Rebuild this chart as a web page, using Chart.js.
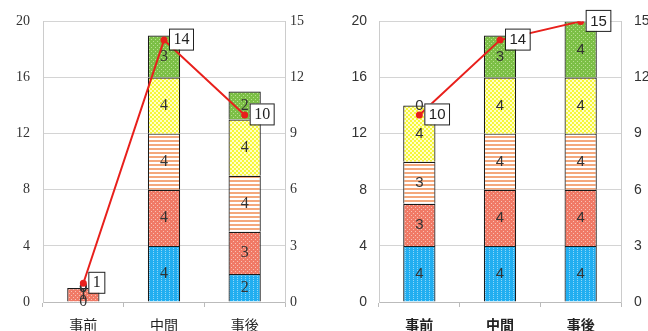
<!DOCTYPE html>
<html>
<head>
<meta charset="utf-8">
<script src="https://cdn.jsdelivr.net/npm/chart.js@4"></script>
<style>
  html, body { margin: 0; padding: 0; background: #fff; }
  .wrap { display: flex; width: 648px; height: 331px; }
  canvas { display: block; }
</style>
</head>
<body>
<div class="wrap">
  <canvas id="leftChart" width="324" height="331"></canvas>
  <canvas id="rightChart" width="324" height="331"></canvas>
</div>
<script>
const categories = ["事前", "中間", "事後"];

// left chart
const leftBlue = [0, 4, 2];
const leftRed = [1, 4, 3];
const leftStripe = [0, 4, 4];
const leftYellow = [0, 4, 4];
const leftGreen = [0, 3, 2];
const leftLine = [1, 14, 10];

// right chart
const rightBlue = [4, 4, 4];
const rightRed = [3, 4, 4];
const rightStripe = [3, 4, 4];
const rightYellow = [4, 4, 4];
const rightGreen = [0, 3, 4];
const rightLine = [10, 14, 15];

const leftTicks = { max: 20, step: 4 };
const rightTicks = { max: 15, step: 3 };

function makePattern(base, dot, kind) {
  const c = document.createElement("canvas");
  c.width = 4;
  c.height = 4;
  const g = c.getContext("2d");
  g.fillStyle = base;
  g.fillRect(0, 0, 4, 4);
  g.fillStyle = dot;
  if (kind === "vdots") {
    g.fillRect(1, 0, 1, 1);
    g.fillRect(1, 2, 1, 1);
  } else if (kind === "dots") {
    g.fillRect(1, 1, 1, 1);
    g.fillRect(3, 3, 1, 1);
  } else if (kind === "stripes") {
    g.fillRect(0, 0, 4, 2);
  } else if (kind === "checker") {
    g.fillRect(0, 0, 2, 2);
    g.fillRect(2, 2, 2, 2);
  }
  return g.createPattern(c, "repeat");
}

const fills = [
  makePattern("#22aef0", "#8fd6f8", "vdots"),
  makePattern("#f07a66", "#f8c0b4", "dots"),
  makePattern("#ffffff", "#f4a87c", "stripes"),
  makePattern("#f6f63a", "#ffffc8", "checker"),
  makePattern("#7cbf46", "#b8e090", "dots"),
];

const labelPlugin = {
  id: "labels",
  beforeDatasetDraw(chart, args) {
    if (chart.data.datasets[args.index].type !== "line") return;
    const ctx = chart.ctx;
    const font = chart.options.plugins.labels.font;
    ctx.save();
    ctx.font = font;
    ctx.fillStyle = "#333";
    ctx.textAlign = "center";
    ctx.textBaseline = "middle";
    chart.data.datasets.forEach((ds, i) => {
      if (ds.type === "line") return;
      chart.getDatasetMeta(i).data.forEach((el, j) => {
        ctx.fillText(String(ds.data[j]), el.x, (el.y + el.base) / 2);
      });
    });
    ctx.restore();
  },
  afterDatasetsDraw(chart) {
    const ctx = chart.ctx;
    const font = chart.options.plugins.labels.font;
    ctx.save();
    ctx.font = font;
    chart.data.datasets.forEach((ds, i) => {
      if (ds.type !== "line") return;
      chart.getDatasetMeta(i).data.forEach((el, j) => {
        const txt = String(ds.data[j]);
        const w = ctx.measureText(txt).width + 8;
        const h = 21;
        const x = el.x + 5;
        const y = el.y - h / 2 - 1;
        ctx.fillStyle = "#fff";
        ctx.fillRect(x, y, w, h);
        ctx.strokeStyle = "#222";
        ctx.lineWidth = 1;
        ctx.strokeRect(x + 0.5, y + 0.5, w, h);
        ctx.fillStyle = "#222";
        ctx.textAlign = "center";
        ctx.textBaseline = "middle";
        ctx.fillText(txt, x + w / 2 + 0.5, y + h / 2 + 1);
      });
    });
    ctx.restore();
  },
};

function buildChart(id, series, line, cfg) {
  const datasets = [
    {
      type: "line",
      data: line,
      yAxisID: "y2",
      order: 0,
      borderColor: "#e8201c",
      backgroundColor: "#e8201c",
      borderWidth: 2,
      pointRadius: 2.5,
      tension: 0,
    },
  ];
  series.forEach((vals, k) => {
    datasets.push({
      type: "bar",
      data: vals,
      yAxisID: "y",
      order: 1,
      backgroundColor: fills[k],
      borderColor: "#1a1a1a",
      borderWidth: 1.2,
      barPercentage: 0.4,
      categoryPercentage: 1,
    });
  });

  return new Chart(document.getElementById(id), {
    data: { labels: categories, datasets },
    plugins: [labelPlugin],
    options: {
      responsive: false,
      animation: false,
      devicePixelRatio: 1,
      layout: { padding: { top: cfg.top, left: 0, right: 0, bottom: 0 } },
      plugins: {
        legend: { display: false },
        tooltip: { enabled: false },
        labels: { font: cfg.labelFont },
      },
      scales: {
        x: {
          stacked: true,
          offset: true,
          afterFit: (s) => { s.height = 29; },
          grid: {
            offset: true,
            drawOnChartArea: false,
            drawTicks: true,
            tickLength: 5,
            color: "#bbb",
          },
          border: { color: "#bbb" },
          ticks: {
            padding: cfg.xPad,
            color: "#222",
            font: { family: cfg.catFamily, size: 14, weight: cfg.catWeight },
          },
        },
        y: {
          stacked: true,
          min: 0,
          max: leftTicks.max,
          afterFit: (s) => { s.width = cfg.yWidth; },
          grid: { color: "#d4d4d4", drawTicks: false },
          border: { color: "#ccc" },
          ticks: {
            stepSize: leftTicks.step,
            padding: cfg.yPad,
            color: "#333",
            font: { family: cfg.family, size: 14 },
          },
        },
        y2: {
          position: "right",
          min: 0,
          max: rightTicks.max,
          afterFit: (s) => { s.width = cfg.y2Width; },
          grid: { drawOnChartArea: false, drawTicks: false },
          border: { color: "#ccc" },
          ticks: {
            stepSize: rightTicks.step,
            padding: cfg.y2Pad,
            color: "#333",
            font: { family: cfg.family, size: 14 },
          },
        },
      },
    },
  });
}

buildChart(
  "leftChart",
  [leftBlue, leftRed, leftStripe, leftYellow, leftGreen],
  leftLine,
  {
    top: 18,
    yWidth: 43,
    y2Width: 39,
    yPad: 13,
    y2Pad: 5,
    xPad: 9,
    family: "'Liberation Serif', 'DejaVu Serif', serif",
    catFamily: "'Noto Sans CJK JP', serif",
    catWeight: "normal",
    labelFont: "16px 'Liberation Serif', 'DejaVu Serif', serif",
  }
);

buildChart(
  "rightChart",
  [rightBlue, rightRed, rightStripe, rightYellow, rightGreen],
  rightLine,
  {
    top: 21,
    yWidth: 55,
    y2Width: 27,
    yPad: 12,
    y2Pad: 13,
    xPad: 9,
    family: "'Liberation Sans', 'DejaVu Sans', sans-serif",
    catFamily: "'Noto Sans CJK JP', sans-serif",
    catWeight: "bold",
    labelFont: "15px 'Liberation Sans', 'DejaVu Sans', sans-serif",
  }
);
</script>
</body>
</html>
